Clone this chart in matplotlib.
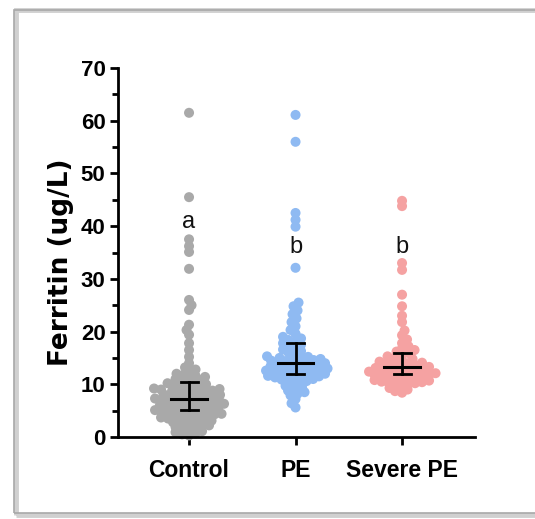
import numpy as np
import matplotlib
matplotlib.use("Agg")
from matplotlib import pyplot as plt
from matplotlib.patches import Rectangle
from matplotlib.ticker import MultipleLocator

# groups and values (ug/L)
groups = ["Control", "PE", "Severe PE"]
letters = ["a", "b", "b"]
letter_y = [40.8, 36.0, 36.1]

control = [61.5, 45.5, 37.5, 36.2, 35.1, 31.9, 26.0, 25.0, 24.1, 21.3, 20.3, 19.4,
           17.8, 16.5, 15.2, 14.0, 13.2,
           12.8, 12.4, 12.0, 11.8, 11.6, 11.4, 11.2, 11.0, 10.8, 10.6, 10.4, 10.2,
           10.0, 9.9, 9.7, 9.6, 9.5, 9.3, 9.2, 9.1, 9.0, 8.9, 8.8, 8.7, 8.6, 8.5, 8.4,
           8.3, 8.1, 8.0, 7.9, 7.8, 7.7, 7.6, 7.5, 7.4, 7.3, 7.2, 7.1, 7.0, 6.9, 6.8,
           6.7, 6.6, 6.5, 6.4, 6.3, 6.2, 6.1, 6.0, 5.9, 5.8, 5.7, 5.6, 5.5, 5.4, 5.3,
           5.2, 5.1, 5.0, 4.9, 4.8, 4.7, 4.6, 4.5, 4.4, 4.3, 4.2, 4.1, 4.0, 3.9, 3.7,
           3.6, 3.5, 3.4, 3.3, 3.1, 3.0, 2.8, 2.7, 2.5, 2.4, 2.2, 2.1, 1.9, 1.7, 1.5,
           1.3, 1.1, 0.9, 0.7, 0.5, 0.3]
pe = [61.1, 56.0, 42.5, 41.2, 39.9, 32.1,
      25.5, 24.8, 24.0, 23.3, 22.5, 21.8, 21.0, 20.3, 19.6,
      19.0, 18.7, 18.4, 18.1, 17.8, 17.5, 17.2, 16.9, 16.6, 16.3, 16.0, 15.7,
      15.3, 15.2, 15.0, 14.9, 14.8, 14.7, 14.6, 14.5, 14.4, 14.2, 14.1, 14.0, 13.9,
      13.8, 13.7, 13.6, 13.4, 13.3, 13.2, 13.1, 13.0, 12.9, 12.8, 12.7, 12.6, 12.5,
      12.4, 12.3, 12.2, 12.1, 12.0, 11.8, 11.7, 11.6, 11.5, 11.4, 11.3, 11.2, 11.0,
      10.9, 10.8, 10.6, 10.3, 10.0, 9.7, 9.4, 9.1, 8.8, 8.5, 8.2, 7.9, 7.2, 6.4, 5.6]
severe = [44.8, 43.8, 33.0, 31.7, 27.0, 24.8, 23.0, 21.8,
          20.2, 19.3, 18.5, 17.8, 17.2,
          16.8, 16.5, 16.2, 15.9, 15.6, 15.3, 15.0, 14.8, 14.6,
          14.4, 14.3, 14.1, 14.0, 13.9, 13.7, 13.6, 13.5, 13.3, 13.2, 13.1, 13.0,
          12.9, 12.8, 12.7, 12.5, 12.4, 12.3, 12.2, 12.1, 12.0, 11.9, 11.8, 11.7,
          11.6, 11.5, 11.4, 11.3, 11.2, 11.1, 10.9, 10.8, 10.7, 10.6, 10.5, 10.4,
          10.3, 10.2, 10.1, 9.9, 9.6, 9.3, 9.0, 8.7, 8.4]

# median and 95% CI
centers = [7.2, 14.0, 13.3]
ci_low = [5.1, 12.0, 12.0]
ci_high = [10.4, 17.8, 15.9]

colors = ["#a9a9a9", "#8fbaf2", "#f5a2a2"]
narrow = ["Liberation Sans", "DejaVu Sans"]

fig = plt.figure(figsize=(5.35, 5.19), dpi=100)

# picture frame around the figure
fig.patches.append(Rectangle((16 / 535, 4 / 519), 1.2, 505 / 519, transform=fig.transFigure,
                             fill=False, edgecolor="#d0d0d0", lw=3.5, zorder=0))
fig.patches.append(Rectangle((14 / 535, 6 / 519), 1.2, 503 / 519, transform=fig.transFigure,
                             fill=False, edgecolor="#a8a8a8", lw=1.2, zorder=1))

ax = fig.add_axes([118 / 535, 82 / 519, 357 / 535, 369 / 519])
ax.set_xlim(-0.667, 2.685)
ax.set_ylim(0, 70)

# simple beeswarm in pixel space (elliptic spacing, like prism column scatter)
px_x = 106.5
px_y = 369 / 70
gap_x = 7.0
gap_y = 5.0


def swarm(vals):
    yv = np.array(vals) * px_y
    order = np.argsort(yv)
    offs = np.zeros(len(yv))
    placed = []
    for n, i in enumerate(order):
        y = yv[i]
        first = 1 if n % 2 == 0 else -1
        found = None
        for k in range(0, 200):
            for sgn in (first, -first):
                x = sgn * k * 0.5
                ok = True
                for (qx, qy) in placed:
                    if abs(qy - y) < gap_y and ((qx - x) / gap_x) ** 2 + ((qy - y) / gap_y) ** 2 < 1:
                        ok = False
                        break
                if ok:
                    found = x
                    break
            if found is not None:
                break
        offs[i] = found
        placed.append((found, y))
    return offs / px_x


for i, vals in enumerate([control, pe, severe]):
    xo = swarm(vals)
    ax.scatter(i + xo, vals, s=52, color=colors[i], edgecolors="none", zorder=2, clip_on=False)
    # median line and CI
    ax.plot([i - 0.165, i + 0.165], [centers[i]] * 2, color="black", lw=2.2, zorder=3)
    ax.plot([i, i], [ci_low[i], ci_high[i]], color="black", lw=2.0, zorder=3)
    for v in (ci_low[i], ci_high[i]):
        ax.plot([i - 0.08, i + 0.08], [v, v], color="black", lw=2.0, zorder=3)
    ax.text(i, letter_y[i], letters[i], ha="center", va="center", fontsize=17,
            family=narrow, color="#111111", zorder=4)

for s in ["top", "right"]:
    ax.spines[s].set_visible(False)
for s in ["left", "bottom"]:
    ax.spines[s].set_linewidth(2.0)

ax.set_xticks(range(len(groups)))
ax.set_xticklabels(groups)
ax.yaxis.set_major_locator(MultipleLocator(10))
ax.yaxis.set_minor_locator(MultipleLocator(5))
ax.tick_params(axis="both", which="major", length=6, width=2.0, pad=3)
ax.tick_params(axis="y", which="minor", length=4, width=2.0)
ax.tick_params(axis="x", pad=10)

for lab in ax.get_xticklabels() + ax.get_yticklabels():
    lab.set_family(narrow)
    lab.set_fontweight("bold")
for lab in ax.get_xticklabels():
    lab.set_fontsize(16.5)
for lab in ax.get_yticklabels():
    lab.set_fontsize(16)

ax.set_ylabel("Ferritin (ug/L)", fontsize=19, fontweight="bold", family="DejaVu Sans", va="center")
ax.yaxis.set_label_coords(-0.16, 0.474)

fig.savefig("out.png", dpi=100)
